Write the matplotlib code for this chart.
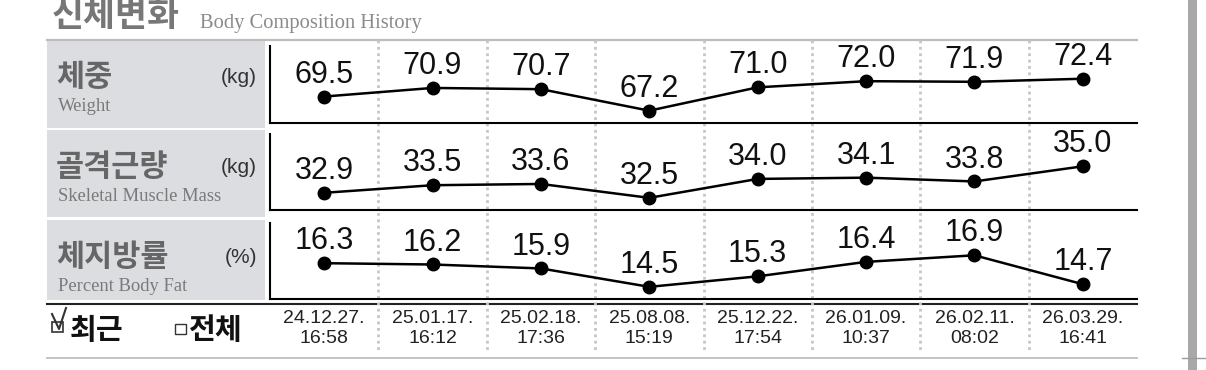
import matplotlib
matplotlib.use("Agg")
import matplotlib.pyplot as plt
from matplotlib.patches import Rectangle
import numpy as np

# ---------------- data ----------------
dates = ["24.12.27.\n16:58", "25.01.17.\n16:12", "25.02.18.\n17:36", "25.08.08.\n15:19",
         "25.12.22.\n17:54", "26.01.09.\n10:37", "26.02.11.\n08:02", "26.03.29.\n16:41"]
weight = [69.5, 70.9, 70.7, 67.2, 71.0, 72.0, 71.9, 72.4]
muscle = [32.9, 33.5, 33.6, 32.5, 34.0, 34.1, 33.8, 35.0]
body_fat = [16.3, 16.2, 15.9, 14.5, 15.3, 16.4, 16.9, 14.7]

row_names_ko = ["체중", "골격근량", "체지방률"]
row_names_en = ["Weight", "Skeletal Muscle Mass", "Percent Body Fat"]
row_units = ["(kg)", "(kg)", "(%)"]
series = [weight, muscle, body_fat]

W, H = 1206, 370
KO = ["Noto Sans CJK KR", "DejaVu Sans"]
SANS = ["Liberation Sans", "DejaVu Sans"]
SERIF = ["Liberation Serif", "DejaVu Serif"]

fig = plt.figure(figsize=(W / 100, H / 100), dpi=100)

# overlay axes in pixel coordinates (y down)
bg = fig.add_axes([0, 0, 1, 1], zorder=0)
bg.set_xlim(0, W)
bg.set_ylim(H, 0)
bg.axis("off")

PLOT_L, PLOT_R = 270, 1137
col_w = (PLOT_R - PLOT_L) / len(dates)

# title (top of it runs off the image, like the original)
bg.text(52, 26, "신체변화", family=KO, fontsize=25, fontweight="bold", color="#777777", va="baseline")
bg.text(200, 28, "Body Composition History", family=SERIF, fontsize=14.8, color="#8a8a8a", va="baseline")

# frame lines
bg.plot([47, PLOT_R], [40, 40], color="#bdbdbd", lw=1.6)
bg.plot([47, PLOT_R], [358, 358], color="#c4c4c4", lw=1.4)
bg.plot([47, PLOT_R], [304, 304], color="#222222", lw=1.5)

# dotted column dividers
for i in range(1, len(dates)):
    x = PLOT_L + i * col_w
    bg.plot([x, x], [40, 350], color="#c6c6c6", lw=2.0, linestyle=(0, (1, 1.3)))

# right-side gray bar
bg.add_patch(Rectangle((1188, 0), 9, H, color="#a8a8a8", lw=0))
bg.plot([1182, 1206], [358, 358], color="#9a9a9a", lw=1)

# left label boxes
box_rows = [(40, 128), (130, 217), (220, 300)]
for (top, bot), ko, en, unit in zip(box_rows, row_names_ko, row_names_en, row_units):
    bg.add_patch(Rectangle((47, top), 218, bot - top, color="#dcdde1", lw=0))
    bg.text(56, top + 46, ko, family=KO, fontsize=22, fontweight="bold", color="#666666", va="baseline")
    bg.text(58, top + 71, en, family=SERIF, fontsize=13.4, color="#7a7a7a", va="baseline")
    bg.text(257, top + 43, unit, family=SANS, fontsize=15, color="#333333", ha="right", va="baseline")

# bottom toggle
bg.add_patch(Rectangle((52, 322), 11, 10, fill=False, ec="#333333", lw=1.2))
bg.plot([52, 59, 66], [314, 329, 308], color="#333333", lw=1.5)
bg.text(70, 339, "최근", family=KO, fontsize=21, fontweight="bold", color="#111111", va="baseline")
bg.add_patch(Rectangle((175, 324), 11, 10, fill=False, ec="#333333", lw=1))
bg.text(189, 339, "전체", family=KO, fontsize=21, fontweight="bold", color="#111111", va="baseline")

# data rows
plot_rows = [(46, 123), (134, 210), (223, 299)]
x = np.arange(len(dates))
for k, ((top, bot), vals) in enumerate(zip(plot_rows, series)):
    ax = fig.add_axes([PLOT_L / W, 1 - bot / H, (PLOT_R - PLOT_L) / W, (bot - top) / H], zorder=1)
    ax.set_facecolor("none")
    lo_v, hi_v = min(vals), max(vals)
    span = (hi_v - lo_v) / 0.415
    lo = lo_v - 0.16 * span
    ax.set_ylim(lo, lo + span)
    ax.set_xlim(-0.5, len(dates) - 0.5)
    ax.plot(x, vals, color="black", lw=1.8, marker="o", markersize=9, clip_on=False)
    for xi, v in zip(x, vals):
        ax.annotate(f"{v:.1f}", (xi, v), xytext=(0, 10), textcoords="offset points",
                    ha="center", va="baseline", fontsize=22, family=SANS, color="#111111")
    for s in ["top", "right"]:
        ax.spines[s].set_visible(False)
    ax.spines["left"].set_linewidth(1.5)
    ax.spines["bottom"].set_linewidth(1.5)
    ax.set_yticks([])
    ax.set_xticks([])
    if k == 2:
        ax.set_xticks(x)
        ax.set_xticklabels(dates, family=SANS, fontsize=14, color="#222222", linespacing=1.22)
        ax.tick_params(axis="x", length=0, pad=8)

fig.savefig("out.png", dpi=100)
